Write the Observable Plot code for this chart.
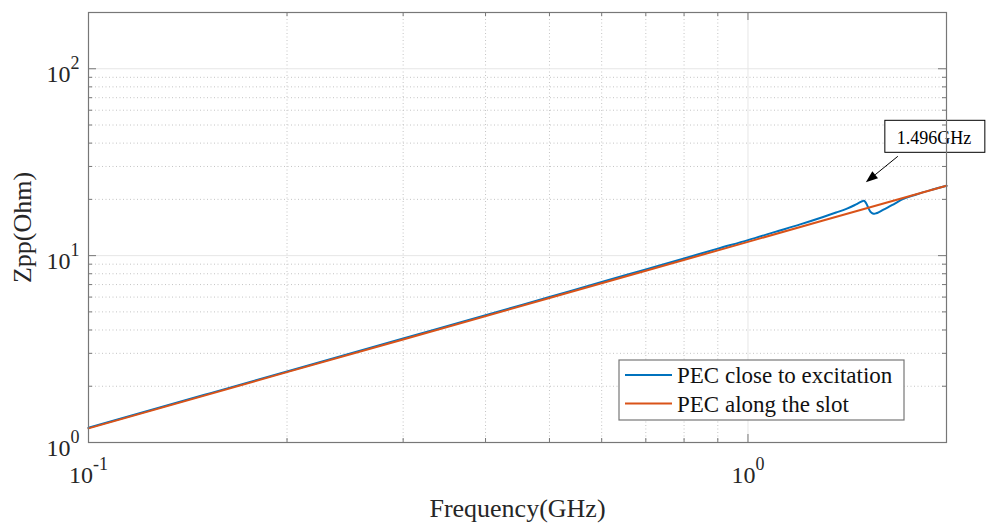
<!DOCTYPE html>
<html>
<head>
<meta charset="utf-8">
<script src="https://cdn.jsdelivr.net/npm/d3@7"></script>
<script src="https://cdn.jsdelivr.net/npm/@observablehq/plot@0.6"></script>
<style>
  body { margin: 0; background: #fff; }
  #chart { width: 1000px; height: 525px; }
</style>
</head>
<body>
<div id="chart"></div>
<script>
// Impedance Zpp versus frequency for two PEC placements
const freqBlue = [0.1, 0.15, 0.2, 0.3, 0.4, 0.5, 0.6, 0.7, 0.8, 0.9, 1.0, 1.1, 1.2, 1.3, 1.36, 1.41, 1.45, 1.475, 1.49, 1.498, 1.506, 1.514, 1.522, 1.53, 1.538, 1.546, 1.555, 1.565, 1.58, 1.6, 1.63, 1.67, 1.72, 1.8, 1.9, 2.0];
const zppBlue  = [1.20, 1.80, 2.40, 3.60, 4.80, 6.01, 7.22, 8.44, 9.66, 10.9, 12.1, 13.4, 14.7, 16.1, 17.0, 17.8, 18.6, 19.2, 19.55, 19.65, 19.4, 18.8, 18.0, 17.4, 17.0, 16.8, 16.75, 16.85, 17.1, 17.5, 18.1, 19.0, 20.1, 21.25, 22.5, 23.65];

const freqOrange = [0.1, 0.2, 0.3, 0.5, 0.7, 1.0, 1.3, 1.6, 2.0];
const zppOrange  = [1.19, 2.38, 3.56, 5.93, 8.3, 11.85, 15.4, 18.95, 23.65];

const seriesNames  = ["PEC close to excitation", "PEC along the slot"];
const seriesColors = ["#0072BD", "#D95319"];

const xMajor = [0.1, 1];
const xMinor = [0.2, 0.3, 0.4, 0.5, 0.6, 0.7, 0.8, 0.9, 2];
const yMajor = [1, 10, 100];
const yMinor = [2, 3, 4, 5, 6, 7, 8, 9, 20, 30, 40, 50, 60, 70, 80, 90, 200];

const peakFreq = 1.496;
const peakLabel = "1.496GHz";
const xLabel = "Frequency(GHz)";
const yLabel = "Zpp(Ohm)";

const W = 1000, H = 525;
const mT = 12, mB = 83, mL = 88, mR = 54;
const frameH = H - mT - mB;
const frameW = W - mL - mR;
const axisColor = "#777";
const textColor = "#262626";
const serif = "'Liberation Serif', 'Times New Roman', serif";

const blue = freqBlue.map((f, i) => ({f, z: zppBlue[i]}));
const orange = freqOrange.map((f, i) => ({f, z: zppOrange[i]}));

const expFormat = d => "10^" + Math.round(Math.log10(d));

const plot = Plot.plot({
  width: W, height: H,
  marginTop: mT, marginBottom: mB, marginLeft: mL, marginRight: mR,
  style: {fontFamily: serif, background: "#fff", color: textColor, overflow: "visible"},
  x: {type: "log", domain: [0.1, 2]},
  y: {type: "log", domain: [1, 200]},
  marks: [
    // grid
    Plot.ruleX(xMinor, {stroke: "#c4c4c4", strokeDasharray: "1,2.5", strokeWidth: 1}),
    Plot.ruleY(yMinor, {stroke: "#c4c4c4", strokeDasharray: "1,2.5", strokeWidth: 1}),
    Plot.ruleX(xMajor, {stroke: "#e6e6e6", strokeWidth: 1}),
    Plot.ruleY(yMajor, {stroke: "#e6e6e6", strokeWidth: 1}),
    // curves
    Plot.line(blue, {x: "f", y: "z", stroke: seriesColors[0], strokeWidth: 2, curve: "monotone-x"}),
    Plot.line(orange, {x: "f", y: "z", stroke: seriesColors[1], strokeWidth: 2}),
    // box and inward ticks on all four sides
    Plot.frame({stroke: axisColor, strokeWidth: 1.2}),
    Plot.ruleX(xMajor, {stroke: axisColor, insetTop: frameH - 8}),
    Plot.ruleX(xMajor, {stroke: axisColor, insetBottom: frameH - 8}),
    Plot.ruleX(xMinor, {stroke: axisColor, insetTop: frameH - 4}),
    Plot.ruleX(xMinor, {stroke: axisColor, insetBottom: frameH - 4}),
    Plot.ruleY(yMajor, {stroke: axisColor, insetRight: frameW - 8}),
    Plot.ruleY(yMajor, {stroke: axisColor, insetLeft: frameW - 8}),
    Plot.ruleY(yMinor, {stroke: axisColor, insetRight: frameW - 4}),
    Plot.ruleY(yMinor, {stroke: axisColor, insetLeft: frameW - 4}),
    // tick labels
    Plot.axisX(xMajor, {tickSize: 0, tickPadding: 23, tickFormat: expFormat, fontSize: 24, fill: textColor, label: null}),
    Plot.axisY(yMajor, {tickSize: 0, tickPadding: 9, tickFormat: expFormat, fontSize: 24, fill: textColor, dy: 6, label: null}),
    // axis titles
    Plot.text([xLabel], {frameAnchor: "bottom", textAnchor: "middle", lineAnchor: "middle", dy: 66, fontSize: 26, fill: textColor}),
    Plot.text([yLabel], {frameAnchor: "left", textAnchor: "middle", lineAnchor: "middle", dx: -66, rotate: -90, fontSize: 26, fill: textColor})
  ]
});

const svg = d3.select(plot);

// exponent tick labels: "10" with a raised power
svg.selectAll('g[aria-label$="tick label"] text').each(function() {
  const t = this.textContent;
  if (!t.includes("^")) return;
  const [base, power] = t.split("^");
  const el = d3.select(this);
  el.text(base);
  el.append("tspan").attr("dy", -13).attr("font-size", 18).text(power);
});

// annotation: arrow towards the resonance and its label box,
// placed beneath the axes box so the border stays visible through it
const sx = plot.scale("x"), sy = plot.scale("y");
const peakZ = zppBlue[freqBlue.indexOf(1.498)];
const tipX = sx.apply(peakFreq) + 3, tipY = sy.apply(peakZ) - 18;
const tailX = tipX + 32, tailY = tipY - 26;
const ang = Math.atan2(tipY - tailY, tipX - tailX);
const hl = 12, hw = 4.5;
const bx = tipX - hl * Math.cos(ang), by = tipY - hl * Math.sin(ang);
const frameNode = plot.querySelector('[aria-label="frame"]');
const annNode = document.createElementNS("http://www.w3.org/2000/svg", "g");
annNode.setAttribute("aria-label", "annotation");
plot.insertBefore(annNode, frameNode);
const ann = d3.select(annNode);
ann.append("line")
  .attr("x1", tailX).attr("y1", tailY).attr("x2", bx).attr("y2", by)
  .attr("stroke", "#000").attr("stroke-width", 1);
ann.append("polygon")
  .attr("points", [
    [tipX, tipY],
    [bx + hw * Math.sin(ang), by - hw * Math.cos(ang)],
    [bx - hw * Math.sin(ang), by + hw * Math.cos(ang)]
  ].map(p => p.join(",")).join(" "))
  .attr("fill", "#000");
const boxX = tailX - 13, boxY = tailY - 36, boxW = 100, boxH = 32;
ann.append("rect")
  .attr("x", boxX).attr("y", boxY).attr("width", boxW).attr("height", boxH)
  .attr("fill", "#fff").attr("stroke", "#000").attr("stroke-width", 1);
ann.append("text")
  .attr("x", boxX + 12).attr("y", boxY + 24)
  .attr("text-anchor", "start")
  .attr("font-family", serif).attr("font-size", 18).attr("fill", "#000")
  .text(peakLabel);

// legend
const lg = svg.append("g").attr("aria-label", "legend");
lg.append("rect")
  .attr("x", 619).attr("y", 360).attr("width", 285).attr("height", 60)
  .attr("fill", "#fff").attr("stroke", axisColor).attr("stroke-width", 1.2);
seriesNames.forEach((name, i) => {
  const yy = 375 + i * 28.5;
  lg.append("line").attr("x1", 625).attr("x2", 672).attr("y1", yy).attr("y2", yy)
    .attr("stroke", seriesColors[i]).attr("stroke-width", 2);
  lg.append("text").attr("x", 677).attr("y", yy + 8)
    .attr("text-anchor", "start")
    .attr("font-family", serif).attr("font-size", 23).attr("fill", "#111")
    .text(name);
});

document.getElementById("chart").appendChild(plot);
</script>
</body>
</html>
